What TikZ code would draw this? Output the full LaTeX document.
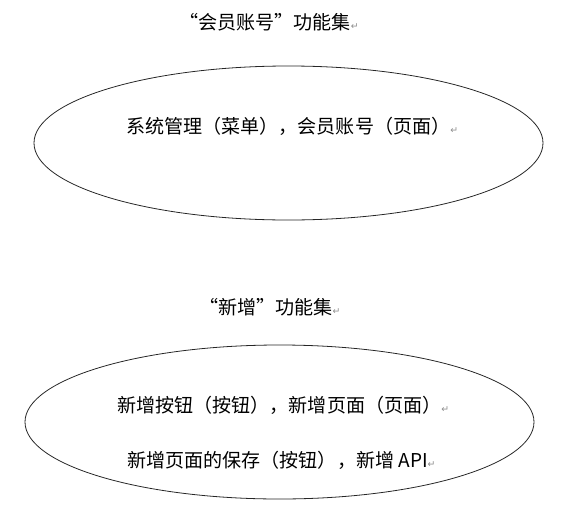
\documentclass[tikz,border=0pt]{standalone}
\usepackage{fontspec}
\setmainfont{Noto Sans CJK SC}
\newfontfamily\retfont{DejaVu Sans}
\usetikzlibrary{shapes.geometric}
\newcommand{\ret}{{\retfont\fontsize{7}{8}\selectfont\textcolor{black!45}{↵}}}
\begin{document}
\begin{tikzpicture}[
    x=0.75pt, y=-0.75pt,
    every node/.style={font=\fontsize{14.3}{17}\selectfont, inner sep=0pt},
    set/.style={ellipse, draw=black!85, line width=0.6pt, minimum width=381.75pt, minimum height=115.5pt},
    title/.style={anchor=west},
    item/.style={anchor=west}
]
\useasboundingbox (0,0) rectangle (561,507);
% member account set
\node[title] (t1) at (179, 22)   {“会员账号”功能集\ret};
\node[set]   (s1) at (288.5, 143) {};
\node[item]  (m1) at (126, 126)  {系统管理（菜单），会员账号（页面）\ret};
% add set
\node[title] (t2) at (199, 307)  {“新增”功能集\ret};
\node[set]   (s2) at (279.5, 422) {};
\node[item]  (a1) at (117, 405)  {新增按钮（按钮），新增页面（页面）\ret};
\node[item]  (a2) at (127, 460)  {新增页面的保存（按钮），新增 API\ret};
\end{tikzpicture}
\end{document}
